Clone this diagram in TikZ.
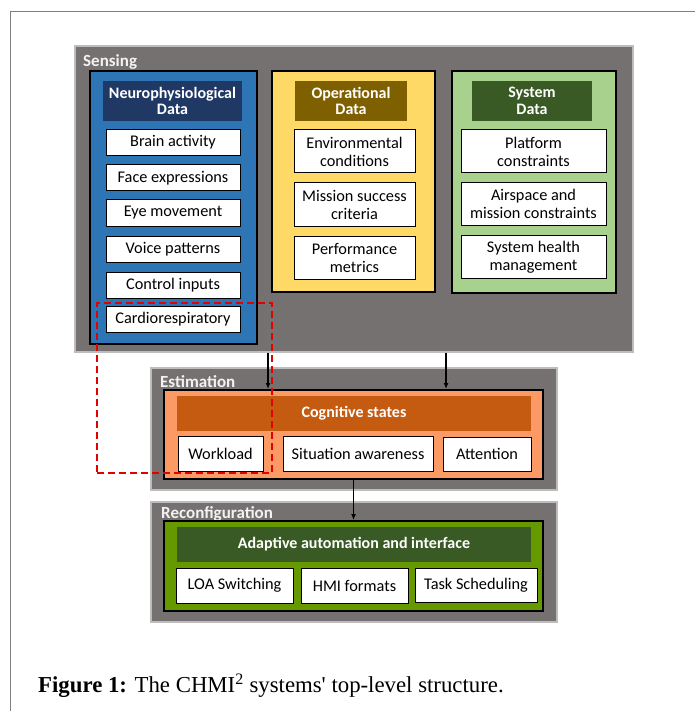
\documentclass[tikz,border=0pt]{standalone}
\usepackage{fontspec}
\setmainfont{Liberation Serif}[Ligatures=TeXOff]
\newfontfamily\boxfont{Carlito}
\usetikzlibrary{arrows.meta}

\definecolor{panelgray}{HTML}{767171}
\definecolor{panelrim}{HTML}{BDBDBD}
\definecolor{neuroblue}{HTML}{2E75B6}
\definecolor{neuronavy}{HTML}{203864}
\definecolor{opyellow}{HTML}{FFD966}
\definecolor{opbrown}{HTML}{7F6000}
\definecolor{syslight}{HTML}{A9D18E}
\definecolor{sysdark}{HTML}{3A5A25}
\definecolor{coglight}{HTML}{FB9A65}
\definecolor{cogdark}{HTML}{C55A11}
\definecolor{adaptgreen}{HTML}{669900}

\def\itemfont{\boxfont\fontsize{16.3}{18}\selectfont}
\def\headfont{\boxfont\bfseries\fontsize{16}{16.5}\selectfont}

\begin{document}
\begin{tikzpicture}[x=1pt,y=-1pt]
  \tikzset{panel/.style={fill=panelgray,draw=panelrim,line width=2pt,inner sep=0pt},
    panellabel/.style={anchor=west,text=white!95!black,inner sep=0pt,font=\boxfont\bfseries\fontsize{17}{17}\selectfont},
    group/.style={draw=black,line width=2pt,inner sep=0pt},
    header/.style={inner sep=0pt,text=white,align=center,font=\headfont},
    entry/.style={fill=white,draw=black,line width=1pt,inner sep=0pt,align=center,font=\itemfont},
    link/.style={line width=1.5pt,-{Latex[length=6pt,width=5pt]}}}
  \useasboundingbox (0,0) rectangle (695,711);

  % page frame
  \draw[black!50,line width=1pt] (695,12) -- (10,12) -- (10,711);

  % sensing
  \node[panel,minimum width=558,minimum height=306] (sensing) at (354,199) {};
  \node[panellabel] (sensinglabel) at (83,62) {Sensing};

  \node[group,fill=neuroblue,minimum width=167,minimum height=273] (neuro) at (173.5,207.5) {};
  \node[header,fill=neuronavy,minimum width=139,minimum height=40] (neurohead) at (172.5,101) {Neurophysiological\\Data};
  \node[entry,minimum width=134,minimum height=26] (brain) at (173,142.5) {Brain activity};
  \node[entry,minimum width=134,minimum height=26] (face) at (173,178) {Face expressions};
  \node[entry,minimum width=134,minimum height=26] (eye) at (173,213) {Eye movement};
  \node[entry,minimum width=134,minimum height=26] (voice) at (173,249) {Voice patterns};
  \node[entry,minimum width=134,minimum height=26] (control) at (173,285) {Control inputs};
  \node[entry,minimum width=134,minimum height=26] (cardio) at (173,319.5) {Cardiorespiratory};

  \node[group,fill=opyellow,minimum width=163,minimum height=221] (oper) at (353.5,181.5) {};
  \node[header,fill=opbrown,minimum width=112,minimum height=40] (operhead) at (351,101) {Operational\\Data};
  \node[entry,minimum width=121,minimum height=43] (environ) at (354.5,151.5) {Environmental\\conditions};
  \node[entry,minimum width=121,minimum height=43] (mission) at (354.5,204.5) {Mission success\\criteria};
  \node[entry,minimum width=121,minimum height=43] (perf) at (354.5,257.5) {Performance\\metrics};

  \node[group,fill=syslight,minimum width=164,minimum height=222] (system) at (534,182) {};
  \node[header,fill=sysdark,minimum width=120,minimum height=40] (systemhead) at (532,101) {System\\Data};
  \node[entry,minimum width=145,minimum height=43] (platform) at (533.5,151.5) {Platform\\constraints};
  \node[entry,minimum width=145,minimum height=43] (airspace) at (533.5,204) {Airspace and\\mission constraints};
  \node[entry,minimum width=145,minimum height=43] (health) at (533.5,257) {System health\\management};

  % estimation
  \node[panel,minimum width=406,minimum height=122] (estimation) at (354,429) {};
  \node[panellabel] (estimationlabel) at (160,382) {Estimation};
  \node[group,fill=coglight,minimum width=379,minimum height=89] (cog) at (353.5,434.5) {};
  \node[header,fill=cogdark,minimum width=354,minimum height=35] (coghead) at (354,413.5) {Cognitive states};
  \node[entry,minimum width=85,minimum height=35] (workload) at (220.5,453.5) {Workload};
  \node[entry,minimum width=150,minimum height=35] (awareness) at (358,453.5) {Situation awareness};
  \node[entry,minimum width=88,minimum height=34] (attention) at (487,454) {Attention};

  % reconfiguration
  \node[panel,minimum width=406,minimum height=120] (reconfig) at (354,562) {};
  \node[panellabel] (reconfiglabel) at (161,514) {Reconfiguration};
  \node[group,fill=adaptgreen,minimum width=379,minimum height=90] (adapt) at (353.5,566) {};
  \node[header,fill=sysdark,minimum width=354,minimum height=35] (adapthead) at (354,544.5) {Adaptive automation and interface};
  \node[entry,minimum width=117,minimum height=35] (loa) at (234.5,585.5) {LOA Switching};
  \node[entry,minimum width=107,minimum height=35] (hmi) at (354.5,585.5) {HMI formats};
  \node[entry,minimum width=122,minimum height=34] (task) at (476,585) {Task Scheduling};

  \draw[link] (sensing.south -| 268,0) -- (cog.north -| 268,0);
  \draw[link] (sensing.south -| 446,0) -- (cog.north -| 446,0);
  \draw[link] (cog.south) -- (adapt.north);

  % dashed mark
  \node[draw=red!90!black,line width=2pt,dash pattern=on 7pt off 4pt,inner sep=0pt,minimum width=175,minimum height=170] (focus) at (184.5,388) {};

  \node[anchor=base west,inner sep=0pt,font=\fontsize{22.8}{24}\selectfont] (caption) at (38,692) {\textbf{Figure 1:} The CHMI\textsuperscript{2} systems' top-level structure.};
\end{tikzpicture}
\end{document}
